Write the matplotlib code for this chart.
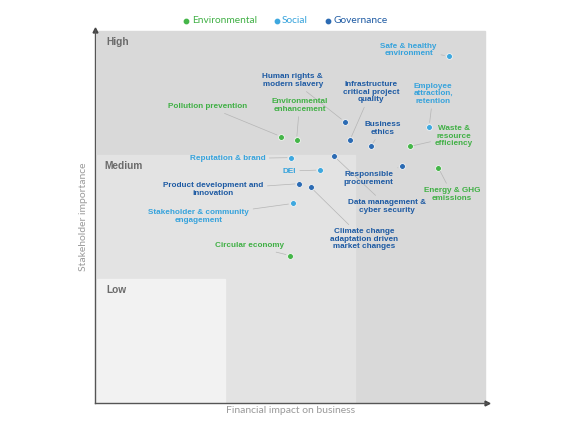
import matplotlib
matplotlib.use("Agg")
import matplotlib.pyplot as plt
from matplotlib.patches import Rectangle

# topics, categories and scores (financial impact, stakeholder importance)
topics = [
    "Safe & healthy\nenvironment", "Human rights &\nmodern slavery", "Pollution prevention",
    "Environmental\nenhancement", "Infrastructure\ncritical project\nquality", "Business\nethics",
    "Employee\nattraction,\nretention", "Waste &\nresource\nefficiency", "Reputation & brand",
    "Data management &\ncyber security", "DEI", "Responsible\nprocurement",
    "Energy & GHG\nemissions", "Product development and\ninnovation",
    "Climate change\nadaptation driven\nmarket changes",
    "Stakeholder & community\nengagement", "Circular economy",
]
category = ["S", "G", "E", "E", "G", "G", "S", "E", "S", "G", "S", "G", "E", "G", "G", "S", "E"]
financial = [2.72, 1.92, 1.43, 1.55, 1.96, 2.12, 2.57, 2.42, 1.51, 1.84, 1.73, 2.36, 2.64,
             1.57, 1.66, 1.52, 1.50]
stakeholder = [2.80, 2.27, 2.15, 2.12, 2.12, 2.07, 2.23, 2.07, 1.98, 1.99, 1.88, 1.91, 1.90,
               1.77, 1.74, 1.61, 1.19]

levels = ["Low", "Medium", "High"]
cat_names = {"E": "Environmental", "S": "Social", "G": "Governance"}

# label placement (offset in pixels from the point)
label_offsets = [(-40, 6), (-52, 41), (-73, 30), (3, 35), (21, 48), (12, 18), (4, 33),
                 (44, 10), (-64, -1), (53, -50), (-31, -1), (-33, -12), (14, -27),
                 (-86, -6), (53, -52), (-94, -13), (-41, 10)]

dot_col = {"E": "#45b649", "S": "#3ea8df", "G": "#2c6bb3"}
txt_col = {"E": "#40b045", "S": "#36a3dc", "G": "#1d5aa3"}

fig = plt.figure(figsize=(5.76, 4.29), dpi=100)
ax = fig.add_axes([95 / 576, 1 - 403 / 429, 392 / 576, 373 / 429])
ax.set_xlim(0, 3.015)
ax.set_ylim(0, 3.01)

# background zones
ax.add_patch(Rectangle((0.015, 0), 2.985, 3.0, color="#d9d9d9", zorder=0))
ax.add_patch(Rectangle((0.015, 0), 1.985, 2.0, color="#e3e3e3", zorder=0))
ax.add_patch(Rectangle((0.015, 0), 0.985, 1.0, color="#f2f2f2", zorder=0))
for lv, (lx, ly) in zip(levels, [(0.09, 0.91), (0.07, 1.91), (0.09, 2.91)]):
    ax.text(lx, ly, lv, fontsize=7.3, fontweight="bold", color="#6b6b6b",
            family="Liberation Sans", va="center", ha="left")

# points and labels
for name, c, fx, sy, off in zip(topics, category, financial, stakeholder, label_offsets):
    ax.scatter(fx, sy, s=18, color=dot_col[c], edgecolor="#f4f4f4", linewidth=0.6,
               zorder=3)
    ax.annotate(name, xy=(fx, sy), xytext=off, textcoords="offset pixels",
                ha="center", va="center", multialignment="center",
                fontsize=5.9, fontweight="bold", color=txt_col[c],
                family="Liberation Sans", linespacing=1.1,
                arrowprops=dict(arrowstyle="-", color="#b5b5b5", lw=0.5,
                                shrinkA=1, shrinkB=3))

# legend
handles = []
for k in ["E", "S", "G"]:
    handles.append(ax.scatter([], [], s=10, color=dot_col[k], label=cat_names[k]))
leg = ax.legend(handles=handles, loc="center", bbox_to_anchor=(0.485, 1.025), ncol=3,
                frameon=False, handlelength=0.7, handletextpad=0.2, columnspacing=1.6,
                prop=dict(family="Lato", size=7.3), borderaxespad=0)
for t, k in zip(leg.get_texts(), ["E", "S", "G"]):
    t.set_color(txt_col[k])

# axes with arrows
for s in ["top", "right"]:
    ax.spines[s].set_visible(False)
for s in ["left", "bottom"]:
    ax.spines[s].set_color("#555555")
    ax.spines[s].set_linewidth(1.0)
ax.plot(1, 0, ">", color="#444444", ms=3.5, transform=ax.transAxes, clip_on=False)
ax.plot(0, 1, "^", color="#444444", ms=3.5, transform=ax.transAxes, clip_on=False)
ax.set_xticks([])
ax.set_yticks([])
ax.set_xlabel("Financial impact on business", fontsize=7.5, color="#9a9a9a",
              family="Lato", labelpad=2)
ax.set_ylabel("Stakeholder importance", fontsize=7.5, color="#9a9a9a",
              family="Lato", labelpad=2)
ax.yaxis.set_label_coords(-0.018, 0.5)

fig.savefig("out.png", dpi=100)
